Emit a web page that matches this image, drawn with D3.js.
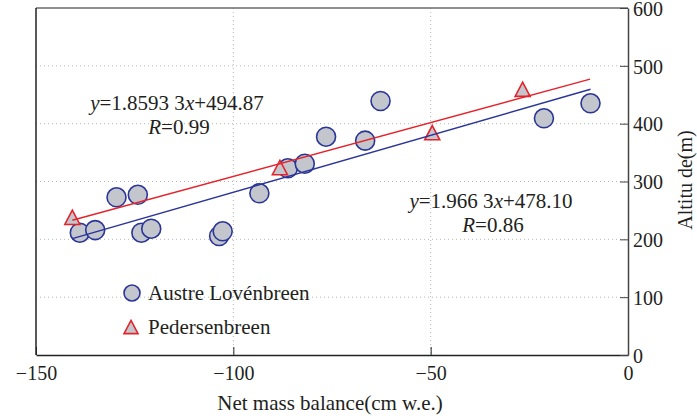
<!DOCTYPE html>
<html>
<head>
<meta charset="utf-8">
<script src="https://cdn.jsdelivr.net/npm/d3@7"></script>
<style>
  body { margin: 0; background: #fff; }
</style>
</head>
<body>
<div id="chart"></div>
<script>
"use strict";

// Austre Lovénbreen (circles)
var austreX = [-138.9, -135.0, -129.6, -124.2, -123.3, -120.8, -103.6, -102.7, -93.4, -86.2, -81.9, -76.5, -66.6, -62.7, -21.3, -9.5];
var austreY = [211.5, 216.0, 272.7, 277.0, 211.5, 218.4, 205.8, 213.9, 279.6, 322.8, 330.8, 377.5, 370.6, 439.2, 409.3, 435.2];
// Pedersenbreen (triangles)
var pedX = [-140.8, -88.2, -49.6, -26.7];
var pedY = [238.0, 324.0, 384.4, 459.5];

// fitted lines as printed on the chart: [slope, intercept, xStart, xEnd]
var pedFit = [1.85933, 494.87, -140.8, -9.6];
var austreFit = [1.96633, 478.10, -140.8, -9.5];

var xTicks = [-150, -100, -50, 0];
var yTicks = [0, 100, 200, 300, 400, 500, 600];
var xGrid = [-100, -50];
var yGrid = [100, 200, 300, 400, 500];

var W = 697, H = 416;
var plotL = 36, plotR = 628, plotT = 8, plotB = 355;

var RED = "#e5232a", BLUE = "#2a3597", FILL = "#c3c6cd";
var FONT = "'Liberation Serif', 'Times New Roman', Times, serif";
var INK = "#231f20";

var svg = d3.select("#chart").append("svg")
    .attr("width", W)
    .attr("height", H)
    .style("font-family", FONT);

svg.append("rect").attr("width", W).attr("height", H).attr("fill", "#fff");

var x = d3.scaleLinear().domain([-150, 0]).range([plotL, plotR]);
var y = d3.scaleLinear().domain([0, 600]).range([plotB, plotT]);

function txt(sel, size) {
    return sel.style("font-family", FONT).style("font-size", size + "px").attr("fill", INK);
}

// grid
svg.append("g").selectAll("line")
    .data(yGrid)
  .enter().append("line")
    .attr("x1", plotL).attr("x2", plotR)
    .attr("y1", function (d) { return y(d); })
    .attr("y2", function (d) { return y(d); })
    .attr("stroke", "#b8b8b8").attr("stroke-width", 1)
    .attr("stroke-dasharray", "1,3");

svg.append("g").selectAll("line")
    .data(xGrid)
  .enter().append("line")
    .attr("y1", plotT).attr("y2", plotB)
    .attr("x1", function (d) { return x(d); })
    .attr("x2", function (d) { return x(d); })
    .attr("stroke", "#b8b8b8").attr("stroke-width", 1)
    .attr("stroke-dasharray", "1,3");

// frame
svg.append("line").attr("x1", plotL).attr("x2", plotR).attr("y1", plotT).attr("y2", plotT)
    .attr("stroke", "#6a6a6a").attr("stroke-width", 1.5);
svg.append("line").attr("x1", plotL).attr("x2", plotL).attr("y1", plotT).attr("y2", plotB)
    .attr("stroke", "#222").attr("stroke-width", 1.5);

// x axis (ticks inward)
var xAxis = svg.append("g")
    .attr("transform", "translate(0," + plotB + ")")
    .call(d3.axisBottom(x).tickValues(xTicks).tickSize(-8).tickSizeOuter(0).tickPadding(16));
xAxis.attr("font-family", null);
xAxis.select(".domain").attr("stroke", "#222").attr("stroke-width", 1.5);
xAxis.selectAll(".tick line").attr("stroke", "#222");
txt(xAxis.selectAll(".tick text"), 20)
    .attr("dy", "0.45em");

// y axis on the right (ticks inward)
var yAxis = svg.append("g")
    .attr("transform", "translate(" + plotR + ",0)")
    .call(d3.axisRight(y).tickValues(yTicks).tickSize(-8).tickPadding(12).tickSizeOuter(0));
yAxis.attr("font-family", null);
yAxis.select(".domain").attr("stroke", "#444").attr("stroke-width", 1.5);
yAxis.selectAll(".tick line").attr("stroke", "#444");
txt(yAxis.selectAll(".tick text"), 20)
    .attr("x", 5)
    .attr("dy", "0.36em");

// axis titles
txt(svg.append("text"), 21)
    .attr("x", 330).attr("y", 410)
    .attr("text-anchor", "middle")
    .text("Net mass balance(cm w.e.)");

txt(svg.append("text"), 20)
    .attr("transform", "translate(692,180) rotate(-90)")
    .attr("text-anchor", "middle")
    .text("Altitu de(m)");

// markers
function triPath(s) {
    var h = s * 0.95;
    return "M0," + (-h / 2) + "L" + (s / 2) + "," + (h / 2) + "L" + (-s / 2) + "," + (h / 2) + "Z";
}

svg.append("g").selectAll("circle")
    .data(d3.range(austreX.length))
  .enter().append("circle")
    .attr("cx", function (i) { return x(austreX[i]); })
    .attr("cy", function (i) { return y(austreY[i]); })
    .attr("r", 9.5)
    .attr("fill", FILL)
    .attr("stroke", BLUE)
    .attr("stroke-width", 1.6);

svg.append("g").selectAll("path")
    .data(d3.range(pedX.length))
  .enter().append("path")
    .attr("transform", function (i) { return "translate(" + x(pedX[i]) + "," + y(pedY[i]) + ")"; })
    .attr("d", triPath(15))
    .attr("fill", FILL)
    .attr("stroke", RED)
    .attr("stroke-width", 1.6);

// fit lines
[[austreFit, BLUE], [pedFit, RED]].forEach(function (f) {
    var p = f[0];
    svg.append("line")
        .attr("x1", x(p[2])).attr("y1", y(p[0] * p[2] + p[1]))
        .attr("x2", x(p[3])).attr("y2", y(p[0] * p[3] + p[1]))
        .attr("stroke", f[1]).attr("stroke-width", 1.5);
});

// equations
function equation(cx, by, slope, icpt, r) {
    var t = txt(svg.append("text"), 21).attr("x", cx).attr("y", by)
        .attr("text-anchor", "middle");
    t.append("tspan").style("font-style", "italic").text("y");
    t.append("tspan").text("=" + slope);
    t.append("tspan").style("font-style", "italic").text("x");
    t.append("tspan").text("+" + icpt);
    var t2 = txt(svg.append("text"), 21).attr("x", cx + 2).attr("y", by + 24)
        .attr("text-anchor", "middle");
    t2.append("tspan").style("font-style", "italic").text("R");
    t2.append("tspan").text("=" + r);
}
equation(177, 110, "1.8593 3", "494.87", "0.99");
equation(491, 208, "1.966 3", "478.10", "0.86");

// legend
var legend = svg.append("g");
legend.append("circle")
    .attr("cx", 132).attr("cy", 293).attr("r", 8)
    .attr("fill", FILL).attr("stroke", BLUE).attr("stroke-width", 1.6);
txt(legend.append("text"), 21).attr("x", 148).attr("y", 300)
    .text("Austre Lovénbreen");
legend.append("path")
    .attr("transform", "translate(131,327)")
    .attr("d", triPath(14))
    .attr("fill", FILL).attr("stroke", RED).attr("stroke-width", 1.6);
txt(legend.append("text"), 21).attr("x", 148).attr("y", 334)
    .text("Pedersenbreen");
</script>
</body>
</html>
